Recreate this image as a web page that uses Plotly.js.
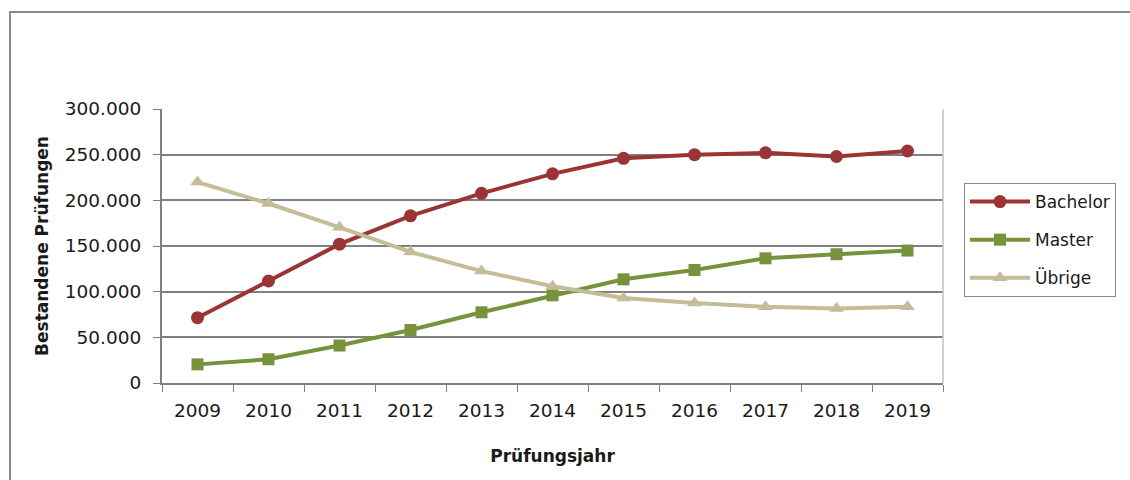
<!DOCTYPE html>
<html>
<head>
<meta charset="utf-8">
<script src="https://cdn.plot.ly/plotly-3.0.1.min.js"></script>
<style>html,body{margin:0;padding:0;background:#fff;}#chart{width:1130px;height:480px;}</style>
</head>
<body>
<div id="chart"></div>
<script>
const years = ["2009","2010","2011","2012","2013","2014","2015","2016","2017","2018","2019"];
const bachelor = [71500, 111700, 152000, 183000, 207700, 229000, 246000, 250000, 252000, 248000, 254000];
const master = [20400, 26000, 41000, 58000, 77400, 96000, 113500, 123700, 136500, 141000, 145000];
const uebrige = [220000, 196500, 170500, 143500, 122500, 106000, 93000, 87500, 83500, 81500, 83500];
const seriesNames = ["Bachelor", "Master", "Übrige"];
const yTicks = [0, 50000, 100000, 150000, 200000, 250000, 300000];

const font = "DejaVu Sans, sans-serif";
const txt = "#1a1a1a";
const traces = [
  {x: years, y: bachelor, name: seriesNames[0], legendgroup: "a", mode: "lines+markers", type: "scatter",
   line: {color: "#9b3434", width: 4}, marker: {symbol: "circle", size: 13, color: "#9b3434"}},
  {x: years, y: master, name: seriesNames[1], legendgroup: "b", mode: "lines+markers", type: "scatter",
   line: {color: "#76923c", width: 4}, marker: {symbol: "square", size: 12, color: "#76923c"}},
  {x: years, y: uebrige, name: seriesNames[2], legendgroup: "c", mode: "lines+markers", type: "scatter",
   line: {color: "#c4bd97", width: 4}, marker: {symbol: "triangle-up", size: 13, color: "#c4bd97"}}
];

const plotL = 162, plotR = 943, plotT = 109, plotB = 383;
const pw = plotR - plotL, ph = plotB - plotT;

const layout = {
  width: 1130, height: 480,
  margin: {l: plotL, r: 1130 - plotR, t: plotT, b: 480 - plotB},
  paper_bgcolor: "#fff", plot_bgcolor: "#fff",
  separators: ",.",
  font: {family: font, size: 18, color: txt},
  showlegend: true,
  legend: {x: (964 - plotL) / pw, y: (plotB - 183) / ph, xanchor: "left", yanchor: "top",
    bordercolor: "#8c8c8c", borderwidth: 1, bgcolor: "#fff",
    font: {family: font, size: 17, color: txt},
    itemwidth: 60,
    traceorder: "grouped", tracegroupgap: 13},
  xaxis: {type: "category", range: [-0.5, 10.5], tickson: "boundaries", ticks: "outside", ticklen: 7,
    tickcolor: "#7f7f7f", showline: true, linecolor: "#7f7f7f", linewidth: 2,
    showgrid: false, zeroline: false, fixedrange: true, ticklabelstandoff: 10,
    tickfont: {family: font, size: 18.5, color: txt},
    title: {text: "<b>Prüfungsjahr</b>", font: {family: font, size: 17, color: txt}, standoff: 30}},
  yaxis: {range: [0, 300000], tickvals: yTicks, tickformat: ",d", ticks: "outside", ticklen: 7,
    tickcolor: "#7f7f7f", showline: true, linecolor: "#7f7f7f", linewidth: 2,
    showgrid: true, gridcolor: "#808080", gridwidth: 1.8, zeroline: false, ticklabelstandoff: 8,
    tickfont: {family: font, size: 18.5, color: txt},
    title: {text: "<b>Bestandene Prüfungen</b>", font: {family: font, size: 17, color: txt}, standoff: 12}},
  shapes: [
    {type: "line", xref: "paper", yref: "paper", x0: 1, x1: 1, y0: 0, y1: 1,
     line: {color: "#c0c0c0", width: 1.5}},
    {type: "rect", xref: "paper", yref: "paper",
     x0: (10 - plotL) / pw, x1: (1140 - plotL) / pw, y0: (plotB - 12) / ph, y1: (plotB - 490) / ph,
     line: {color: "#8a8a8a", width: 2}, layer: "below"}
  ]
};

Plotly.newPlot("chart", traces, layout, {displayModeBar: false, staticPlot: true});
</script>
</body>
</html>
